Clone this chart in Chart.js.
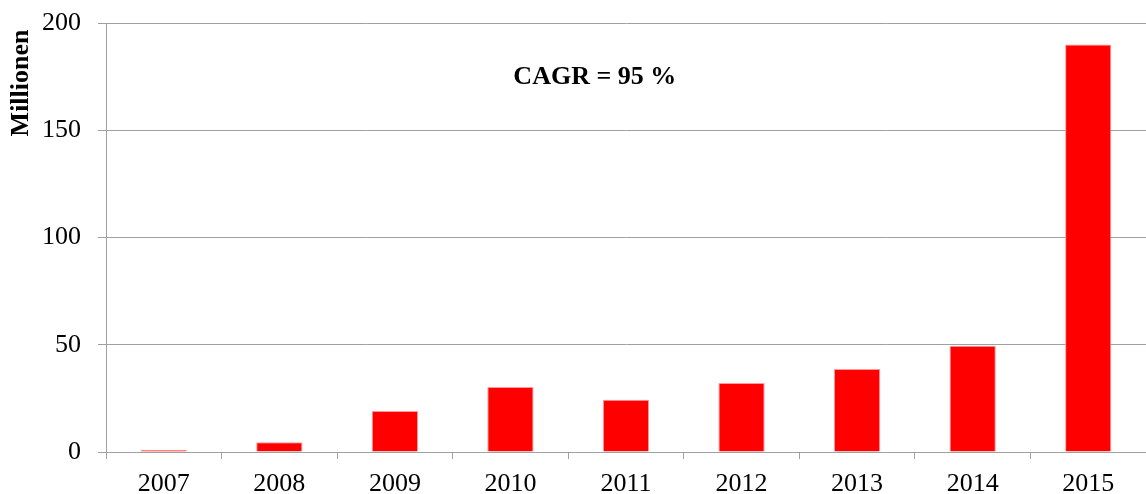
<!DOCTYPE html>
<html>
<head>
<meta charset="utf-8">
<script src="https://cdn.jsdelivr.net/npm/chart.js@4"></script>
<style>
  html, body { margin: 0; padding: 0; background: #ffffff; }
  #wrap { width: 1146px; height: 494px; position: relative; }
</style>
</head>
<body>
<div id="wrap"><canvas id="c" width="1146" height="494"></canvas></div>
<script>
const years = ['2007', '2008', '2009', '2010', '2011', '2012', '2013', '2014', '2015'];
const values = [1.0, 4.5, 19.1, 30.3, 24.4, 32.2, 38.7, 49.5, 190.0];
const yTicks = [0, 50, 100, 150, 200];
const yTitle = 'Millionen ';
const annotationText = 'CAGR = 95 %';
const annotationAt = { x: 3.73, y: 174.5 };

const serif = '"Liberation Serif", "Times New Roman", serif';
const gridGray = '#a0a0a0';

const cagrPlugin = {
  id: 'cagr',
  afterDatasetsDraw(chart) {
    const { ctx, scales } = chart;
    const px = scales.x.getPixelForValue(annotationAt.x);
    const py = scales.y.getPixelForValue(annotationAt.y);
    ctx.save();
    ctx.font = 'bold 26px ' + serif;
    ctx.fillStyle = '#000';
    ctx.textAlign = 'center';
    ctx.textBaseline = 'middle';
    ctx.fillText(annotationText, px, py);
    ctx.restore();
  }
};

new Chart(document.getElementById('c'), {
  type: 'bar',
  data: {
    labels: years,
    datasets: [{
      data: values,
      backgroundColor: '#ff0000',
      borderColor: '#ff9a9a',
      borderWidth: 1,
      barPercentage: 0.4,
      categoryPercentage: 1.0
    }]
  },
  options: {
    responsive: false,
    animation: false,
    devicePixelRatio: 1,
    layout: { padding: { top: 23, right: 0, left: 0, bottom: 0 } },
    plugins: { legend: { display: false }, tooltip: { enabled: false } },
    scales: {
      x: {
        offset: true,
        grid: { display: true, drawOnChartArea: false, drawTicks: true, tickLength: 7, color: gridGray, offset: true },
        border: { display: true, color: gridGray, width: 1 },
        ticks: { color: '#000', font: { family: serif, size: 26 }, padding: 10, maxRotation: 0 },
        afterFit(scale) { scale.height = 42; scale.paddingLeft = 0; scale.paddingRight = 0; }
      },
      y: {
        min: 0, max: 200,
        afterBuildTicks(scale) { scale.ticks = yTicks.map(v => ({ value: v })); },
        grid: { color: gridGray, drawTicks: true, tickLength: 8 },
        border: { display: true, color: gridGray, width: 1 },
        ticks: { color: '#000', font: { family: serif, size: 26 }, padding: 17 },
        title: { display: true, text: yTitle, align: 'end', color: '#000', font: { family: serif, size: 26, weight: 'bold' }, padding: { top: 6, bottom: 0 } },
        afterFit(scale) { scale.width = 106; scale.paddingTop = 0; scale.paddingBottom = 0; }
      }
    }
  },
  plugins: [cagrPlugin]
});
</script>
</body>
</html>
